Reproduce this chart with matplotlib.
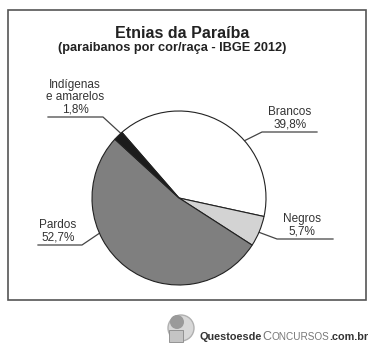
import numpy as np
import matplotlib.pyplot as plt
from matplotlib.patches import Rectangle, Circle, Ellipse

plt.rcParams['font.family'] = ['Liberation Sans', 'DejaVu Sans']

# dados (IBGE 2012)
etnias = ['Brancos', 'Negros', 'Pardos', 'Indígenas\ne amarelos']
percentuais = [39.8, 5.7, 52.7, 1.8]
rotulos = ['39,8%', '5,7%', '52,7%', '1,8%']
cores = ['#ffffff', '#d3d3d3', '#7f7f7f', '#1c1c1c']

W, H = 380, 362
fig = plt.figure(figsize=(W / 100, H / 100), dpi=100)

# eixo de fundo em pixels
ax = fig.add_axes([0, 0, 1, 1])
ax.set_xlim(0, W)
ax.set_ylim(H, 0)
ax.axis('off')

ax.add_patch(Rectangle((8, 9.5), 358, 290.5, fill=False, ec='#555555', lw=1.2))

ax.text(182, 33, 'Etnias da Paraíba', ha='center', va='center',
        fontsize=11.5, fontweight='bold', color='#222222')
ax.text(172, 47.5, '(paraibanos por cor/raça - IBGE 2012)', ha='center', va='center',
        fontsize=9.2, fontweight='bold', color='#222222')

# pizza
cx, cy, r = 179, 198, 87
pax = fig.add_axes([(cx - r) / W, 1 - (cy + r) / H, 2 * r / W, 2 * r / H])
wedges, _ = pax.pie(percentuais, colors=cores, startangle=131, counterclock=False,
                    wedgeprops=dict(edgecolor='#222222', linewidth=0.8))
for w in wedges:
    w.set_clip_on(False)
pax.set_xlim(-1, 1)
pax.set_ylim(-1, 1)

# rótulos: centro do texto x, linha y, extremidade da linha, ponto de ligação (ângulo, raio)
txt_x = [290, 302, 58, 75]
linha_y = [132, 239, 245, 117]
linha_x = [(317, 262), (333, 277), (38, 82), (48, 103)]
ancora = [(46, 0.76), (-23.7, 0.85), (200.8, 0.77), (132, 1.0)]

for nome, rot, tx, ly, (x0, x1), (ang, fr) in zip(etnias, rotulos, txt_x, linha_y, linha_x, ancora):
    ax.text(tx, ly - 1.5, nome + '\n' + rot, ha='center', va='bottom',
            fontsize=8.5, color='#333333', linespacing=1.05)
    axx = cx + fr * r * np.cos(np.radians(ang))
    axy = cy - fr * r * np.sin(np.radians(ang))
    ax.plot([x0, x1, axx], [ly, ly, axy], color='#444444', lw=0.9)

# marca d'água do rodapé
ax.add_patch(Ellipse((181, 328), 26, 26, fc='#d8d8d8', ec='#b0b0b0', lw=1))
ax.add_patch(Circle((177, 322), 7, fc='#9a9a9a', ec='none'))
ax.add_patch(Rectangle((169, 330), 14, 12, fc='#c4c4c4', ec='#888888', lw=0.6))

fig.canvas.draw()
rend = fig.canvas.get_renderer()
x = 200
partes = [('Questoesde', 7.8, 'bold', '#333333'),
          ('C', 9, 'normal', '#777777'),
          ('ONCURSOS', 7.2, 'normal', '#777777'),
          ('.com.br', 7.8, 'bold', '#333333')]
for s, fs, fw, c in partes:
    t = ax.text(x, 340, s, ha='left', va='baseline', fontsize=fs, fontweight=fw, color=c)
    bb = t.get_window_extent(renderer=rend)
    x += bb.width

fig.savefig('out.png', dpi=100)
